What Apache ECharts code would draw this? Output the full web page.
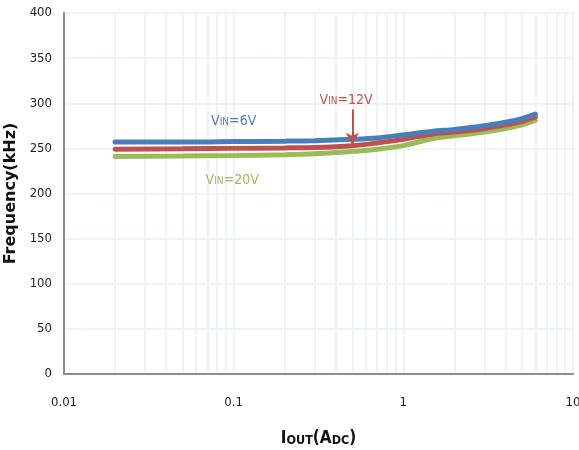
<!DOCTYPE html>
<html><head><meta charset="utf-8">
<script src="https://cdn.jsdelivr.net/npm/echarts@6/dist/echarts.min.js"></script>
<style>html,body{margin:0;padding:0;background:#fff}#c{width:579px;height:450px}</style>
</head><body><div id="c"></div>
<script>
const iout = [0.02, 0.05, 0.1, 0.2, 0.3, 0.5, 0.7, 1, 1.5, 2, 3, 4, 5, 6];
const vin6 = [257, 257, 257.5, 258, 258.5, 260, 261.5, 265, 269, 271, 275, 279, 283, 288];
const vin12 = [249, 249.5, 250, 250.5, 251, 253, 256, 260, 266, 268, 272, 276, 280, 285];
const vin20 = [241, 241.5, 242, 243, 244, 246.5, 249, 253, 261, 264, 268, 272, 276, 281];
const minorX = [0.02,0.03,0.04,0.05,0.06,0.07,0.08,0.09,0.2,0.3,0.4,0.5,0.6,0.7,0.8,0.9,2,3,4,5,6,7,8,9];
const xTicks = [0.01, 0.1, 1, 10];
const yTicks = [0, 50, 100, 150, 200, 250, 300, 350, 400];

const FN = "'DejaVu Sans Condensed','Liberation Sans Narrow','Roboto Condensed','Liberation Sans',sans-serif";
const GRID = '#eef3f5';
const C6 = '#4a7ebb', C12 = '#c0504d', C20 = '#9bbb59';
function pairs(ys){ return iout.map((x,i)=>[x, ys[i]]); }
function lbl(color, rest){
  return {
    show: true, position: 'inside', formatter: '{a|V}{b|IN}{a|' + rest + '}',
    rich: { a: {fontSize: 14, color: color, fontFamily: FN}, b: {fontSize: 10, color: color, fontFamily: FN, verticalAlign: 'bottom', padding:[0,0,1,0]} }
  };
}
const chart = echarts.init(document.getElementById('c'), null, {renderer: 'canvas'});
chart.setOption({
  animation: false,
  backgroundColor: '#fff',
  grid: {left: 64, right: 6, top: 13, bottom: 76, outerBoundsMode: 'none', containLabel: false,
         show: true, borderColor: '#a6a6a6', borderWidth: 1.5, backgroundColor: 'transparent'},
  xAxis: {
    type: 'log', logBase: 10, min: 0.01, max: 10,
    axisLine: {show: true, lineStyle: {color: '#8c8c8c', width: 2}},
    axisTick: {show: false},
    splitLine: {show: true, lineStyle: {color: GRID, width: 2}},
    axisLabel: {margin: 22, fontSize: 13, color: '#222', fontFamily: FN, formatter: v => String(v)},
    name: '{a|I}{b|OUT}{a|(A}{b|DC}{a|)}', nameLocation: 'middle', nameGap: 56,
    nameTextStyle: {rich: {a: {fontSize: 17, fontWeight: 'bold', color: '#111', fontFamily: FN}, b: {fontSize: 12.5, fontWeight: 'bold', color: '#111', fontFamily: FN, verticalAlign:'bottom'}}}
  },
  yAxis: {
    type: 'value', min: 0, max: 400, interval: 50,
    axisLine: {show: true, lineStyle: {color: '#8c8c8c', width: 2}},
    axisTick: {show: false},
    splitLine: {show: true, lineStyle: {color: GRID, width: 2}},
    axisLabel: {margin: 12, fontSize: 13, color: '#222', fontFamily: FN},
    name: 'Frequency(kHz)', nameLocation: 'middle', nameGap: 38,
    nameTextStyle: {fontSize: 16, fontWeight: 'bold', color: '#111', fontFamily: "'DejaVu Sans',sans-serif"}
  },
  series: [
    {type: 'line', data: [], silent: true, z: 0,
     markLine: {silent: true, z: 0, symbol: ['none','none'], label: {show: false},
       lineStyle: {color: GRID, width: 2, type: 'solid', opacity: 1},
       emphasis: {disabled: true},
       data: minorX.map(v => ({xAxis: v}))}},
    {type: 'line', name: 'VIN=20V', data: pairs(vin20), smooth: 0.3, showSymbol: false, z: 3,
     lineStyle: {color: C20, width: 5, cap: 'round'}, itemStyle: {color: C20},
     markPoint: {symbol: 'rect', symbolSize: 1, itemStyle: {color: 'rgba(0,0,0,0)'}, data: [{coord: [0.098, 215], label: lbl(C20, '=20V')}]}},
    {type: 'line', name: 'VIN=12V', data: pairs(vin12), smooth: 0.3, showSymbol: false, z: 4,
     lineStyle: {color: C12, width: 5, cap: 'round'}, itemStyle: {color: C12},
     markPoint: {symbol: 'rect', symbolSize: 1, itemStyle: {color: 'rgba(0,0,0,0)'}, data: [{coord: [0.46, 303.5], label: lbl(C12, '=12V')}]},
     markLine: {silent: true, z: 6, symbol: ['none','arrow'], symbolSize: [10, 12], label: {show: false},
       lineStyle: {color: C12, width: 2, type: 'solid'},
       data: [[{coord: [0.5, 293]}, {coord: [0.5, 254]}]]}},
    {type: 'line', name: 'VIN=6V', data: pairs(vin6), smooth: 0.3, showSymbol: false, z: 5,
     lineStyle: {color: C6, width: 5, cap: 'round'}, itemStyle: {color: C6},
     markPoint: {symbol: 'rect', symbolSize: 1, itemStyle: {color: 'rgba(0,0,0,0)'}, data: [{coord: [0.1, 280], label: lbl(C6, '=6V')}]}}
  ]
});
</script></body></html>
